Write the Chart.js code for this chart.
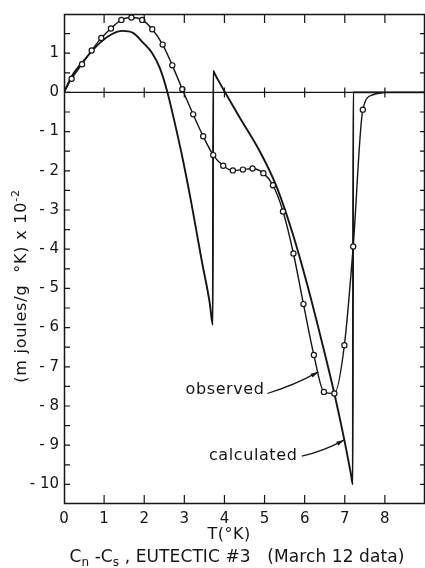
<!DOCTYPE html>
<html lang="en">
<head>
<meta charset="UTF-8">
<title>Cn-Cs eutectic #3</title>
<script src="https://cdn.jsdelivr.net/npm/chart.js"></script>
<style>
  body { margin: 0; background: #fff; }
</style>
</head>
<body>
<canvas id="chart" width="425" height="568"></canvas>
<script>
// observed points (open circles), T in K, value in mJ/g K x 10^-2
const obsT = [0.19, 0.45, 0.69, 0.93, 1.17, 1.43, 1.68, 1.95, 2.2, 2.46, 2.7, 2.95, 3.22, 3.47, 3.72,
              3.97, 4.21, 4.46, 4.70, 4.97, 5.21, 5.46, 5.72, 5.97, 6.23, 6.48, 6.74, 6.99, 7.21, 7.45];
const obsV = [0.35, 0.72, 1.07, 1.39, 1.63, 1.85, 1.91, 1.85, 1.61, 1.22, 0.69, 0.08, -0.56, -1.12, -1.6,
              -1.87, -1.99, -1.97, -1.94, -2.06, -2.37, -3.04, -4.11, -5.40, -6.70, -7.64, -7.68, -6.45, -3.93, -0.44];
// where the observed curve starts and where it runs back onto zero (no circles)
const obsStartT = [0];
const obsStartV = [0];
const obsTailT = [7.7, 8.0];
const obsTailV = [-0.06, 0];

// calculated curve
const calcT = [0, 0.2, 0.5, 0.9, 1.2, 1.45, 1.72, 1.97, 2.2, 2.39, 2.58, 2.8, 2.96, 3.18, 3.43, 3.63, 3.71,
               3.72, 3.76, 3.85, 4.0, 4.38, 4.88, 5.29, 5.7, 6.05, 6.45, 6.74, 6.99, 7.15, 7.2,
               7.21, 9];
const calcV = [0, 0.42, 0.82, 1.27, 1.49, 1.57, 1.52, 1.27, 1.0, 0.62, 0, -0.95, -1.7, -2.85, -4.27, -5.35, -5.93,
               0.55, 0.47, 0.3, 0.03, -0.64, -1.5, -2.38, -3.6, -4.85, -6.45, -7.68, -8.87, -9.72, -10.0,
               0, 0];

const xTicks = [0, 1, 2, 3, 4, 5, 6, 7, 8];
const yTicks = [1, 0, -1, -2, -3, -4, -5, -6, -7, -8, -9, -10];

const toPts = (ts, vs) => ts.map((t, i) => ({ x: t, y: vs[i] }));
const obsData = toPts(obsStartT, obsStartV).concat(toPts(obsT, obsV), toPts(obsTailT, obsTailV));
const firstMark = obsStartT.length;
const lastMark = firstMark + obsT.length - 1;

const ink = '#151515';
Chart.defaults.font.family = 'DejaVu Sans';
Chart.defaults.color = ink;

// text pieces with sub/superscripts: [text, size, shift]
function drawRuns(ctx, runs, cx, cy, spacing) {
  ctx.letterSpacing = spacing + 'px';
  let total = 0;
  runs.forEach(r => { ctx.font = r[1] + 'px DejaVu Sans'; total += ctx.measureText(r[0]).width; });
  let x = cx - total / 2;
  ctx.textAlign = 'left';
  ctx.textBaseline = 'middle';
  runs.forEach(r => {
    ctx.font = r[1] + 'px DejaVu Sans';
    ctx.fillText(r[0], x, cy + r[2]);
    x += ctx.measureText(r[0]).width;
  });
  ctx.letterSpacing = '0px';
}

function arrow(ctx, x0, y0, x1, y1, bend) {
  const mx = (x0 + x1) / 2, my = (y0 + y1) / 2;
  const dx = x1 - x0, dy = y1 - y0, len = Math.hypot(dx, dy);
  const cxp = mx - dy / len * bend, cyp = my + dx / len * bend;
  ctx.beginPath();
  ctx.moveTo(x0, y0);
  ctx.quadraticCurveTo(cxp, cyp, x1, y1);
  ctx.lineWidth = 1.2;
  ctx.stroke();
  const a = Math.atan2(y1 - cyp, x1 - cxp);
  ctx.beginPath();
  ctx.moveTo(x1, y1);
  ctx.lineTo(x1 - 8 * Math.cos(a - 0.28), y1 - 8 * Math.sin(a - 0.28));
  ctx.lineTo(x1 - 8 * Math.cos(a + 0.28), y1 - 8 * Math.sin(a + 0.28));
  ctx.closePath();
  ctx.fill();
}

const framePlugin = {
  id: 'frame',
  afterDatasetsDraw(chart) {
    const { ctx, chartArea: a, scales: { x, y } } = chart;
    ctx.save();
    ctx.strokeStyle = ink;
    ctx.lineWidth = 1.5;
    ctx.strokeRect(a.left + 0.5, a.top + 0.5, a.right - a.left - 1, a.bottom - a.top - 1);
    const y0 = y.getPixelForValue(0);
    ctx.beginPath();
    ctx.moveTo(a.left, y0);
    ctx.lineTo(a.right, y0);
    ctx.lineWidth = 1.3;
    ctx.stroke();
    ctx.beginPath();
    for (let t = 1; t <= 8; t++) {
      const px = x.getPixelForValue(t);
      ctx.moveTo(px, a.bottom); ctx.lineTo(px, a.bottom - 9);
      ctx.moveTo(px, a.top); ctx.lineTo(px, a.top + 9);
      ctx.moveTo(px, y0 - 5); ctx.lineTo(px, y0 + 5);
    }
    for (let v = -10; v <= 1.5; v += 0.5) {
      const py = y.getPixelForValue(v);
      ctx.moveTo(a.left, py); ctx.lineTo(a.left + 6, py);
      ctx.moveTo(a.right, py); ctx.lineTo(a.right - 5, py);
    }
    ctx.lineWidth = 1.2;
    ctx.stroke();
    ctx.restore();
  },
  afterDraw(chart) {
    const { ctx, scales: { x, y } } = chart;
    ctx.save();
    ctx.fillStyle = ink;
    ctx.strokeStyle = ink;

    // axis titles and caption
    drawRuns(ctx, [['T(°K)', 16, 0]], 229, 535, 0.5);
    drawRuns(ctx, [['C', 17, 0], ['n', 12, 5], [' -C', 17, 0], ['s', 12, 5],
                   [' , EUTECTIC #3   (March 12 data)', 17, 0]], 237, 558, 0.1);
    ctx.save();
    ctx.translate(22, 286);
    ctx.rotate(-Math.PI / 2);
    drawRuns(ctx, [['(m joules/g  °K) x 10', 16, 0], ['-2', 11, -6]], 0, 0, 0.8);
    ctx.restore();

    // curve labels
    ctx.font = '16px DejaVu Sans';
    ctx.letterSpacing = '0.6px';
    ctx.textAlign = 'right';
    ctx.textBaseline = 'middle';
    ctx.fillText('observed', x.getPixelForValue(5.0), y.getPixelForValue(-7.58));
    ctx.fillText('calculated', x.getPixelForValue(5.82), y.getPixelForValue(-9.28));
    ctx.letterSpacing = '0px';
    arrow(ctx, x.getPixelForValue(5.07), y.getPixelForValue(-7.68),
               x.getPixelForValue(6.34), y.getPixelForValue(-7.13), 3);
    arrow(ctx, x.getPixelForValue(5.93), y.getPixelForValue(-9.28),
               x.getPixelForValue(6.98), y.getPixelForValue(-8.87), 3);
    ctx.restore();
  }
};

new Chart(document.getElementById('chart').getContext('2d'), {
  type: 'scatter',
  data: {
    datasets: [
      {
        label: 'observed',
        data: obsData,
        showLine: true,
        cubicInterpolationMode: 'monotone',
        borderColor: ink,
        borderWidth: 1.4,
        pointRadius: c => (c.dataIndex >= firstMark && c.dataIndex <= lastMark) ? 2.6 : 0,
        pointBorderWidth: 1.2,
        pointBorderColor: ink,
        pointBackgroundColor: '#fff'
      },
      {
        label: 'calculated',
        data: toPts(calcT, calcV),
        showLine: true,
        cubicInterpolationMode: 'monotone',
        borderColor: ink,
        borderWidth: 1.9,
        pointRadius: 0
      }
    ]
  },
  options: {
    responsive: false,
    animation: false,
    layout: { padding: { top: 14, left: 0, right: 0, bottom: 0 } },
    plugins: { legend: { display: false }, tooltip: { enabled: false } },
    scales: {
      x: {
        type: 'linear',
        min: 0,
        max: 9,
        grid: { display: false, drawTicks: false },
        border: { display: false },
        afterBuildTicks: s => { s.ticks = xTicks.map(v => ({ value: v })); },
        afterFit: s => { s.height = 64; },
        ticks: { padding: 6, font: { size: 15 }, maxRotation: 0, autoSkip: false }
      },
      y: {
        type: 'linear',
        min: -10.5,
        max: 2,
        grid: { display: false, drawTicks: false },
        border: { display: false },
        afterBuildTicks: s => { s.ticks = yTicks.map(v => ({ value: v })); },
        afterFit: s => { s.width = 64; },
        ticks: {
          padding: 5,
          font: { size: 15 },
          autoSkip: false,
          callback: v => v < 0 ? '- ' + (-v) : String(v)
        }
      }
    }
  },
  plugins: [framePlugin]
});
</script>
</body>
</html>
